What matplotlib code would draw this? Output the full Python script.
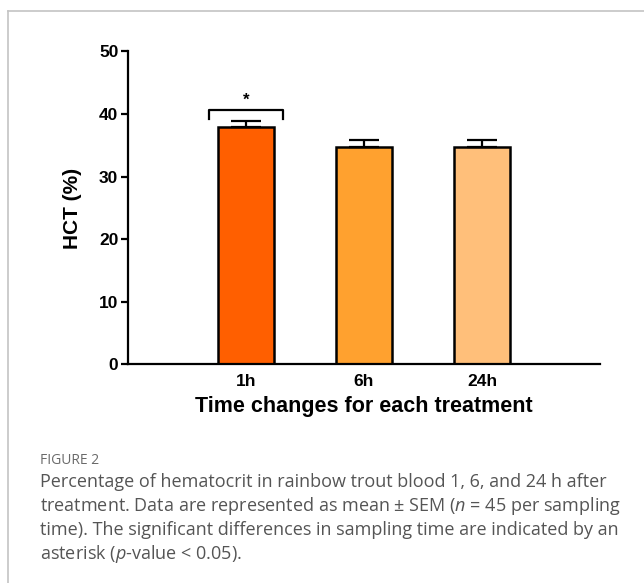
import matplotlib.pyplot as plt
from matplotlib.lines import Line2D

# hematocrit per sampling time
times = ['1h', '6h', '24h']
hct_mean = [37.9, 34.7, 34.7]
hct_sem = [1.0, 1.1, 1.1]
bar_colors = ['#FF5F00', '#FFA12F', '#FFBF7A']

plt.rcParams['mathtext.fontset'] = 'custom'
plt.rcParams['mathtext.rm'] = 'Open Sans'
plt.rcParams['mathtext.it'] = 'Open Sans:italic'

fig = plt.figure(figsize=(6.44, 5.83), dpi=100)
ax = fig.add_axes([0.1988, 0.3748, 0.7329, 0.5369])

x = list(range(len(times)))
ax.bar(x, hct_mean, width=0.48, color=bar_colors, edgecolor='black', linewidth=1.8,
       yerr=[[0] * len(times), hct_sem],
       error_kw=dict(ecolor='black', elinewidth=1.6, capsize=10.5, capthick=1.6))

# significance bracket over 1h
ax.plot([-0.31, -0.31, 0.31, 0.31], [39.2, 40.6, 40.6, 39.2], color='black', lw=1.6,
        clip_on=False)
ax.text(0, 41.0, '*', ha='center', va='bottom', fontsize=12, fontweight='bold',
        family='Liberation Sans')

ax.set_xlim(-1, 3)
ax.set_ylim(0, 50)
ax.set_yticks([0, 10, 20, 30, 40, 50])
ax.set_xticks(x)
ax.set_xticklabels(times)
for s in ['top', 'right']:
    ax.spines[s].set_visible(False)
for s in ['left', 'bottom']:
    ax.spines[s].set_linewidth(1.6)
ax.tick_params(axis='y', length=5, width=1.6, pad=2)
ax.tick_params(axis='x', length=0, pad=7)
for lab in ax.get_xticklabels() + ax.get_yticklabels():
    lab.set_fontfamily('Liberation Sans')
    lab.set_fontweight('bold')
    lab.set_fontsize(12.5)

ax.set_ylabel('HCT (%)', fontsize=15, fontweight='bold', family='Liberation Sans',
              labelpad=12)
ax.set_xlabel('Time changes for each treatment', fontsize=15.5, fontweight='bold',
              family='Liberation Sans', labelpad=5)

# frame around the figure panel
fig.add_artist(Line2D([8 / 644, 1], [1 - 11 / 583] * 2, color='#c4c4c4', lw=1.2))
fig.add_artist(Line2D([8 / 644] * 2, [0, 1 - 11 / 583], color='#c4c4c4', lw=1.2))

# caption
fig.text(40 / 644, 1 - 460 / 583, 'FIGURE 2', fontsize=10, color='#6a6a6a',
         family='Open Sans', va='center')
caption = [
    'Percentage of hematocrit in rainbow trout blood 1, 6, and 24 h after',
    'treatment. Data are represented as mean ± SEM ($n$ = 45 per sampling',
    'time). The significant differences in sampling time are indicated by an',
    'asterisk ($p$-value < 0.05).',
]
for i, line in enumerate(caption):
    fig.text(40 / 644, 1 - (482 + 24 * i) / 583, line, fontsize=13, color='#555555',
             family='Open Sans', va='center')

fig.savefig('out.png', dpi=100)
